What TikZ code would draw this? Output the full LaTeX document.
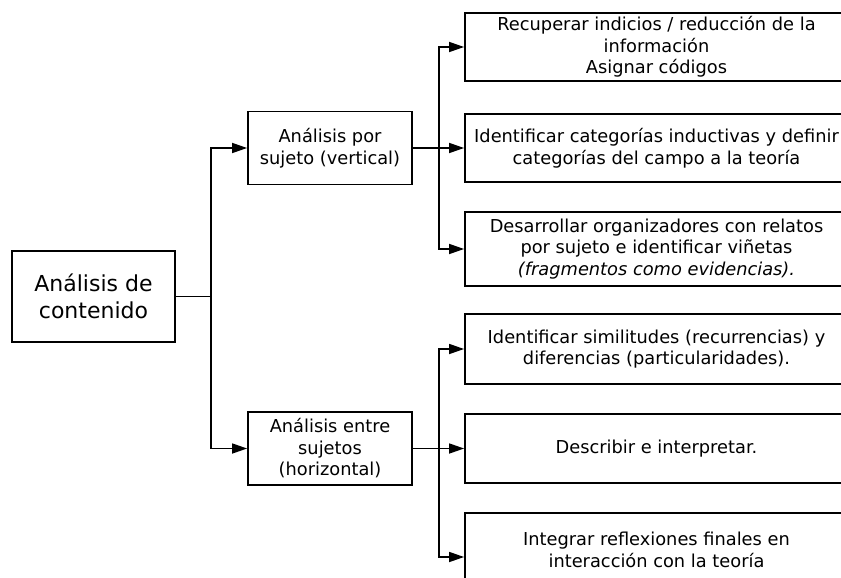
\documentclass[tikz,border=0pt]{standalone}
\usepackage{fontspec}
\setmainfont{DejaVu Sans}
\usetikzlibrary{arrows.meta}

\begin{document}
\begin{tikzpicture}[x=1pt,y=-1pt,>={Triangle[length=15pt,width=10pt]},
  caja/.style={draw,line width=1.8pt,align=center,inner sep=0pt,font=\fontsize{17.8}{21.5}\selectfont},
  flecha/.style={->,line width=1.6pt}]
\clip (0,0) rectangle (841,578);
\node[caja,minimum width=163pt,minimum height=91pt,font=\fontsize{22}{27}\selectfont] (ac) at (93.5,296.5) {Análisis de\\contenido};
\node[caja,minimum width=164pt,minimum height=73pt] (ps) at (330,148) {Análisis por\\sujeto (vertical)};
\node[caja,minimum width=164pt,minimum height=73pt] (es) at (330,448.5) {Análisis entre\\sujetos\\(horizontal)};

\node[caja,minimum width=383pt,minimum height=68pt] (r1) at (656.5,47) {Recuperar indicios / reducción de la\\información\\Asignar códigos};
\node[caja,minimum width=383pt,minimum height=68pt] (r2) at (656.5,148) {Identificar categorías inductivas y definir\\categorías del campo a la teoría};
\node[caja,minimum width=383pt,minimum height=74pt] (r3) at (656.5,249) {Desarrollar organizadores con relatos\\por sujeto e identificar viñetas\\{\itshape (fragmentos como evidencias).}};
\node[caja,minimum width=383pt,minimum height=70pt] (r4) at (656.5,349) {Identificar similitudes (recurrencias) y\\diferencias (particularidades).};
\node[caja,minimum width=383pt,minimum height=69pt] (r5) at (656.5,448.5) {Describir e interpretar.};
\node[caja,minimum width=383pt,minimum height=74pt] (r6) at (656.5,550) {Integrar reflexiones finales en\\interacción con la teoría};

\coordinate (ramaA) at (211,296.5);
\coordinate (ramaB) at (439,148);
\coordinate (ramaC) at (439,448.5);
\coordinate (p6) at (0,557);
\coordinate (r6in) at (r6.west |- p6);

\draw[line width=1.6pt] (ac.east) -- (ramaA);
\draw[flecha] (ramaA) |- (ps);
\draw[flecha] (ramaA) |- (es);

\draw[flecha] (ps) -- (r2);
\draw[flecha] (ramaB) |- (r1);
\draw[flecha] (ramaB) |- (r3);

\draw[flecha] (es) -- (r5);
\draw[flecha] (ramaC) |- (r4);
\draw[flecha] (ramaC) |- (r6in);
\end{tikzpicture}
\end{document}
